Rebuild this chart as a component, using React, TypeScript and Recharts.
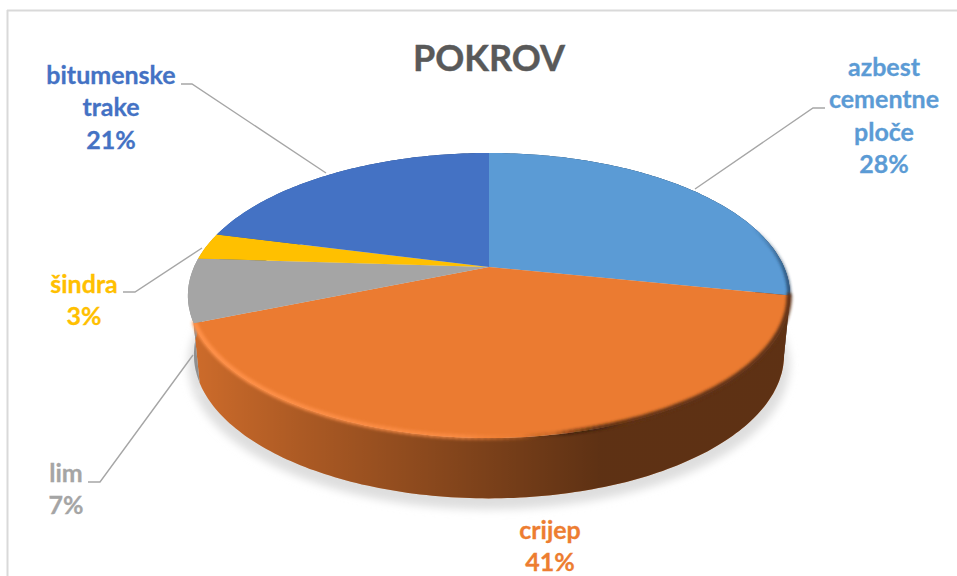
import React from "react";
import { PieChart, Pie } from "recharts";

const categories = ["azbest cementne ploče", "crijep", "lim", "šindra", "bitumenske trake"];
const shares = [28.2, 40.6, 7.2, 3, 21];
const colors = ["#5b9bd5", "#eb7b31", "#a5a5a5", "#ffc000", "#4472c4"];
const chartTitle = "POKROV";

// label anchor (centre x, first baseline y) and leader line per slice
const labelX = [884, 550, 66, 84, 111];
const labelY = [76, 539, 482, 293, 84];
const leaders = [
  "M825 108 L813 108 L695 189",
  "",
  "M88 482 L100 482 L193 355",
  "M123 292 L135 292 L202 248",
  "M181 84 L192 84 L326 173",
];

const table = categories.map((name, i) => ({ name, value: shares[i] }));

const FONT = "Lato, Carlito, 'Open Sans', sans-serif";
const K = 0.2; // perspective strength
const A = 136.8 / 295; // vertical squash

// projects a point of the flat pie on to the tilted disc
function project(cx: number, cy: number, r: number, deg: number, dy = 0, scale = 1, scaleY = 1) {
  const rad = (deg * Math.PI) / 180;
  const u = Math.cos(rad);
  const v = -Math.sin(rad);
  const w = 1 - K * v;
  return {
    x: cx + (r * scale * u) / w,
    y: cy + dy + (r * scaleY * A * v) / w,
    v,
  };
}

function arc(cx: number, cy: number, r: number, start: number, end: number, dy = 0, scale = 1, scaleY = 1) {
  const n = Math.max(2, Math.ceil(Math.abs(end - start)));
  const pts = [];
  for (let i = 0; i <= n; i++) {
    pts.push(project(cx, cy, r, start + ((end - start) * i) / n, dy, scale, scaleY));
  }
  return pts;
}

const toPath = (pts: { x: number; y: number }[]) =>
  pts.map((p, i) => `${i ? "L" : "M"}${p.x.toFixed(1)} ${p.y.toFixed(1)}`).join(" ");

const DEPTH = 59;
const BOTTOM_SCALE = 0.98;
const BOTTOM_SCALE_Y = 1.008;

function ShadowSlice(props: any) {
  const { cx, cy, outerRadius: r, startAngle, endAngle, index } = props;
  const rim = arc(cx, cy, r, startAngle, endAngle, DEPTH + 10, 0.995, 1.008);
  return (
    <g>
      {index === 0 && (
        <defs>
          <filter id="shadowBlur" x="-10%" y="-10%" width="120%" height="130%">
            <feGaussianBlur stdDeviation="4" />
          </filter>
        </defs>
      )}
      <path
        d={`M${cx} ${cy + DEPTH + 10} ${toPath(rim).replace("M", "L")} Z`}
        fill="#dedede"
        stroke="#dedede"
        strokeWidth={2}
        filter="url(#shadowBlur)"
      />
    </g>
  );
}

function WallSlice(props: any) {
  const { cx, cy, outerRadius: r, startAngle, endAngle, index } = props;
  const top = arc(cx, cy, r, startAngle, endAngle);
  const bottom = arc(cx, cy, r, startAngle, endAngle, DEPTH, BOTTOM_SCALE, BOTTOM_SCALE_Y).reverse();
  const d = `${toPath(top)} ${toPath(bottom).replace("M", "L")} Z`;
  return (
    <g>
      {index === 0 && (
        <defs>
          <linearGradient id="wallShade" gradientUnits="userSpaceOnUse" x1="195" y1="0" x2="790" y2="0">
            <stop offset="0" stopColor="#000" stopOpacity="0.13" />
            <stop offset="0.18" stopColor="#000" stopOpacity="0.27" />
            <stop offset="0.48" stopColor="#000" stopOpacity="0.47" />
            <stop offset="0.68" stopColor="#000" stopOpacity="0.6" />
            <stop offset="1" stopColor="#000" stopOpacity="0.6" />
          </linearGradient>
        </defs>
      )}
      <path d={d} fill={colors[index]} />
      <path d={d} fill="url(#wallShade)" />
    </g>
  );
}

function TopSlice(props: any) {
  const { cx, cy, outerRadius: r, startAngle, endAngle, index } = props;
  const rim = arc(cx, cy, r, startAngle, endAngle);
  const d = `M${cx} ${cy} ${toPath(rim).replace("M", "L")} Z`;
  const bevel = arc(cx, cy, r * 0.997, startAngle, endAngle);
  const segments = [];
  for (let i = 1; i < bevel.length; i++) {
    const fade = Math.min(1, Math.max(0, (bevel[i].v + 0.3) / 0.5));
    if (fade > 0) segments.push({ d: toPath([bevel[i - 1], bevel[i]]), fade });
  }
  return (
    <g>
      {index === 0 && (
        <defs>
          <linearGradient id="bevelShade" gradientUnits="userSpaceOnUse" x1="195" y1="0" x2="790" y2="0">
            <stop offset="0" stopColor="#ff9048" stopOpacity="0.8" />
            <stop offset="0.45" stopColor="#ff9048" stopOpacity="0.5" />
            <stop offset="0.55" stopColor="#ed7d31" stopOpacity="0.2" />
            <stop offset="0.6" stopColor="#000" stopOpacity="0.05" />
            <stop offset="0.72" stopColor="#5e3012" stopOpacity="0.9" />
            <stop offset="1" stopColor="#5e3012" stopOpacity="1" />
          </linearGradient>
          <filter id="bevelBlur" filterUnits="userSpaceOnUse" x="150" y="120" width="680" height="360">
            <feGaussianBlur stdDeviation="1.8" />
          </filter>
        </defs>
      )}
      <path d={d} fill={colors[index]} />
      {index === 1 && (
        <g filter="url(#bevelBlur)">
          {segments.map((s, i) => (
            <path
              key={i}
              d={s.d}
              fill="none"
              stroke="url(#bevelShade)"
              strokeWidth={5}
              strokeLinecap="round"
              opacity={s.fade}
            />
          ))}
        </g>
      )}
      {index === 0 && (
        <g filter="url(#bevelBlur)">
          {segments.map((s, i) => (
            <path
              key={i}
              d={s.d}
              fill="none"
              stroke="#1d3b5a"
              strokeOpacity={0.8}
              strokeWidth={3}
              strokeLinecap="round"
              opacity={s.fade}
            />
          ))}
        </g>
      )}
    </g>
  );
}

function SliceLabel(props: any) {
  const { index } = props;
  const lines = [...categories[index].split(" "), `${Math.round(shares[index])}%`];
  return (
    <g>
      {leaders[index] && <path d={leaders[index]} fill="none" stroke="#a6a6a6" strokeWidth={1.4} />}
      {lines.map((line, i) => (
        <text
          key={i}
          x={labelX[index]}
          y={labelY[index] + i * 32.4}
          textAnchor="middle"
          fontFamily={FONT}
          fontWeight={700}
          fontSize={25}
          fill={index === 1 ? "#ed7d31" : colors[index]}
          stroke={index === 1 ? "#ed7d31" : colors[index]}
          strokeWidth={0.3}
        >
          {line}
        </text>
      ))}
    </g>
  );
}

export default function App() {
  const common = {
    data: table,
    dataKey: "value",
    nameKey: "name",
    cx: 489,
    cy: 267,
    outerRadius: 295,
    innerRadius: 0,
    startAngle: 90,
    endAngle: -270,
    stroke: "none",
    isAnimationActive: false,
    labelLine: false,
  };
  return (
    <div style={{ position: "absolute", left: 0, top: 0, width: 957, height: 576, background: "#fff", overflow: "hidden" }}>
      <PieChart width={957} height={576} margin={{ top: 0, right: 0, bottom: 0, left: 0 }}>
        <line x1={7.5} y1={10} x2={7.5} y2={576} stroke="#d9d9d9" strokeWidth={2} />
        <line x1={7} y1={10.5} x2={957} y2={10.5} stroke="#d9d9d9" strokeWidth={2} />
        <text
          x={489}
          y={71}
          textAnchor="middle"
          fontFamily={FONT}
          fontWeight={700}
          fontSize={36}
          fill="#595959"
          stroke="#595959"
          strokeWidth={0.4}
        >
          {chartTitle}
        </text>
        <Pie {...common} shape={ShadowSlice} label={false} />
        <Pie {...common} shape={WallSlice} label={false} />
        <Pie {...common} shape={TopSlice} label={SliceLabel} />
      </PieChart>
    </div>
  );
}
